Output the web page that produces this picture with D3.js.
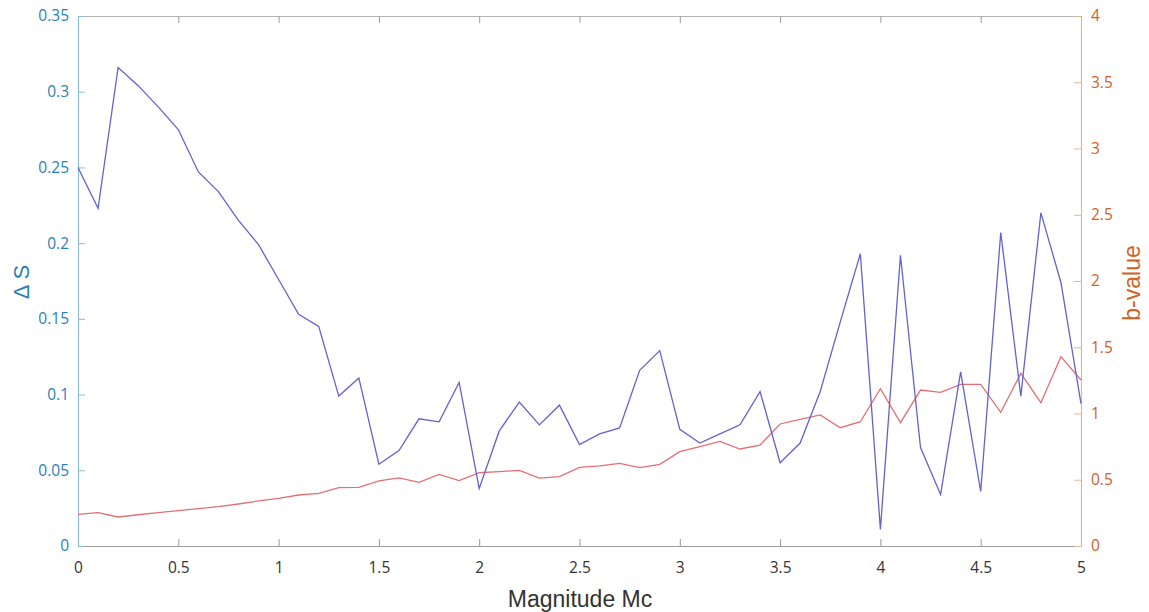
<!DOCTYPE html>
<html>
<head>
<meta charset="utf-8">
<script src="https://cdn.jsdelivr.net/npm/d3@7"></script>
<style>
  html, body { margin: 0; padding: 0; background: #fff; }
  svg { display: block; }
  .tick text { font-family: "Open Sans", "DejaVu Sans", sans-serif; font-size: 15.5px; }
</style>
</head>
<body>
<svg id="chart" width="1149" height="612"></svg>
<script>
// Completeness magnitude steps
const magnitudes = d3.range(51).map(i => +(i * 0.1).toFixed(1));

// ΔS series (left axis)
const deltaS = [
  0.250, 0.223, 0.316, 0.304, 0.290, 0.275, 0.247, 0.234, 0.215, 0.199,
  0.176, 0.153, 0.145, 0.099, 0.111, 0.054, 0.063, 0.084, 0.082, 0.108,
  0.038, 0.076, 0.095, 0.080, 0.093, 0.067, 0.074, 0.078, 0.116, 0.129,
  0.077, 0.068, 0.074, 0.080, 0.102, 0.055, 0.068, 0.102, 0.148, 0.193,
  0.011, 0.192, 0.065, 0.034, 0.115, 0.036, 0.207, 0.099, 0.220, 0.174,
  0.094
];

// b-value series (right axis)
const bValue = [
  0.239, 0.252, 0.219, 0.236, 0.252, 0.267, 0.282, 0.297, 0.317, 0.340,
  0.360, 0.385, 0.397, 0.440, 0.443, 0.491, 0.514, 0.481, 0.541, 0.493,
  0.553, 0.561, 0.571, 0.513, 0.523, 0.594, 0.604, 0.624, 0.591, 0.616,
  0.712, 0.750, 0.790, 0.732, 0.762, 0.921, 0.956, 0.989, 0.893, 0.938,
  1.187, 0.931, 1.177, 1.160, 1.220, 1.220, 1.009, 1.303, 1.082, 1.429,
  1.253
];

const xTicks = [0, 0.5, 1, 1.5, 2, 2.5, 3, 3.5, 4, 4.5, 5];
const leftTicks = [0, 0.05, 0.1, 0.15, 0.2, 0.25, 0.3, 0.35];
const rightTicks = [0, 0.5, 1, 1.5, 2, 2.5, 3, 3.5, 4];

const margin = { left: 78, right: 1081, top: 16, bottom: 546 };

const svg = d3.select("#chart");

const x = d3.scaleLinear().domain([0, 5]).range([margin.left, margin.right]);
const yL = d3.scaleLinear().domain([0, 0.35]).range([margin.bottom, margin.top]);
const yR = d3.scaleLinear().domain([0, 4]).range([margin.bottom, margin.top]);

const leftColor = "#2a7fb8";
const rightColor = "#d2601f";
const boxColor = "#9a9a9a";

// Bottom axis (ticks pointing inward)
const gx = svg.append("g")
  .attr("transform", `translate(0,${margin.bottom})`)
  .call(d3.axisBottom(x).tickValues(xTicks).tickSizeInner(-7).tickSizeOuter(0)
    .tickPadding(16).tickFormat(d3.format("")));
gx.select(".domain").attr("stroke", boxColor).attr("stroke-width", 1.2);
gx.selectAll(".tick line").attr("stroke", boxColor);
gx.selectAll(".tick text").attr("fill", "#333");

// Top axis (ticks only)
const gt = svg.append("g")
  .attr("transform", `translate(0,${margin.top})`)
  .call(d3.axisTop(x).tickValues(xTicks).tickSizeInner(-7).tickSizeOuter(0).tickFormat(""));
gt.select(".domain").attr("stroke", "#b5b5b5").attr("stroke-width", 1.2);
gt.selectAll(".tick line").attr("stroke", boxColor);

// Left axis (ΔS)
const gl = svg.append("g")
  .attr("transform", `translate(${margin.left},0)`)
  .call(d3.axisLeft(yL).tickValues(leftTicks).tickSizeInner(-7).tickSizeOuter(0)
    .tickPadding(9).tickFormat(d3.format("")));
gl.select(".domain").attr("stroke", "#8fbcd8").attr("stroke-width", 1.2);
gl.selectAll(".tick line").attr("stroke", "#8fbcd8");
gl.selectAll(".tick text").attr("fill", leftColor);

// Right axis (b-value)
const gr = svg.append("g")
  .attr("transform", `translate(${margin.right},0)`)
  .call(d3.axisRight(yR).tickValues(rightTicks).tickSizeInner(-7).tickSizeOuter(0)
    .tickPadding(10).tickFormat(d3.format("")));
gr.select(".domain").attr("stroke", "#dcb89a").attr("stroke-width", 1.2);
gr.selectAll(".tick line").attr("stroke", "#dcb89a");
gr.selectAll(".tick text").attr("fill", rightColor);

// Series lines
const lineS = d3.line().x((d, i) => x(magnitudes[i])).y(d => yL(d));
const lineB = d3.line().x((d, i) => x(magnitudes[i])).y(d => yR(d));

svg.append("path")
  .datum(bValue)
  .attr("fill", "none")
  .attr("stroke", "#e46f73")
  .attr("stroke-width", 1.3)
  .attr("d", lineB);

svg.append("path")
  .datum(deltaS)
  .attr("fill", "none")
  .attr("stroke", "#6262d0")
  .attr("stroke-width", 1.3)
  .attr("d", lineS);

// Axis titles
svg.append("text")
  .attr("transform", `translate(29,282) rotate(-90)`)
  .attr("text-anchor", "middle")
  .attr("fill", leftColor)
  .style("font-family", "'Liberation Sans', Arial, sans-serif")
  .style("font-size", "22px")
  .text("Δ S");

svg.append("text")
  .attr("transform", `translate(1140,283) rotate(-90)`)
  .attr("text-anchor", "middle")
  .attr("fill", rightColor)
  .style("font-family", "'Liberation Sans', Arial, sans-serif")
  .style("font-size", "23px")
  .text("b-value");

svg.append("text")
  .attr("x", 580)
  .attr("y", 607)
  .attr("text-anchor", "middle")
  .attr("fill", "#333")
  .style("font-family", "'Liberation Sans', Arial, sans-serif")
  .style("font-size", "23px")
  .text("Magnitude Mc");
</script>
</body>
</html>
